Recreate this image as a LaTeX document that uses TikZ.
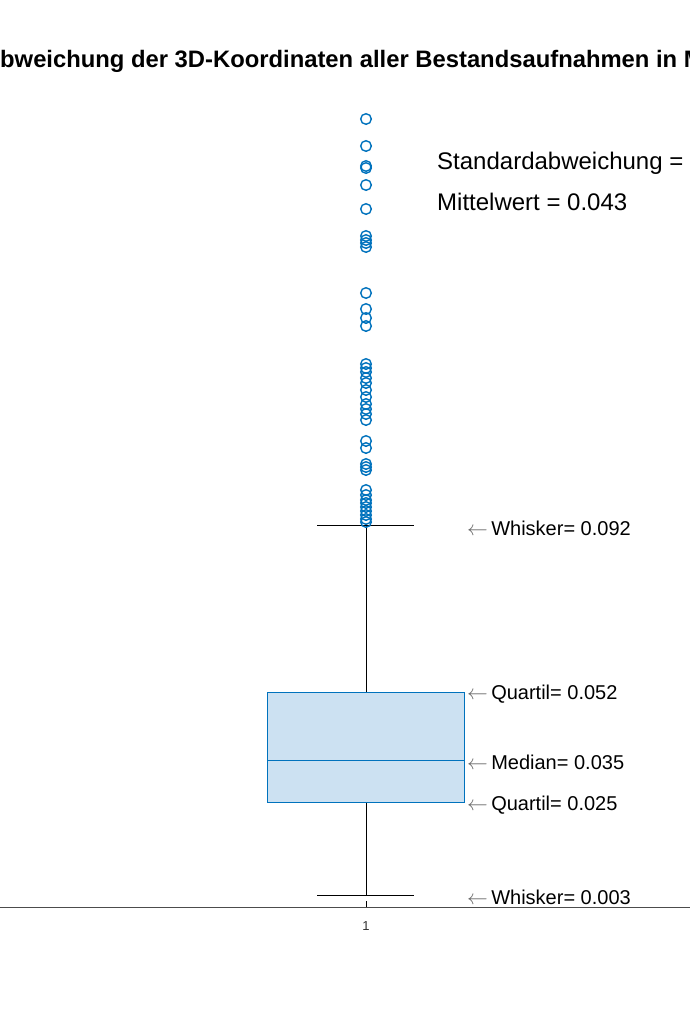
\documentclass[tikz,border=0pt]{standalone}
\usepackage{fontspec}
\setmainfont{Liberation Sans}
\begin{document}
\begin{tikzpicture}[x=1pt,y=-1pt,
  outl/.style={draw=mblue,line width=1.4pt},
  lbl/.style={anchor=west,font=\fontsize{20}{22}\selectfont,inner sep=0pt},
  big/.style={anchor=base west,font=\fontsize{24}{27}\selectfont,inner sep=0pt}]
\definecolor{mblue}{RGB}{0,114,189}
\definecolor{mfill}{RGB}{204,225,242}
\useasboundingbox (0,0) rectangle (690,1020);
\clip (0,0) rectangle (690,1020);
\fill[white] (0,0) rectangle (690,1020);
\node[anchor=base east,inner sep=0pt,font=\bfseries\fontsize{23.8}{26}\selectfont] (titleA) at (0,67) {Standarda};
\node[anchor=base west,inner sep=0pt,font=\bfseries\fontsize{23.8}{26}\selectfont] (titleB) at (0,67) {bweichung der 3D-Koordinaten aller Bestandsaufnahmen in Metern};
% axis
\draw[line width=0.8pt,black!70] (0,907) -- (690,907);
\draw[line width=0.6pt] (366,907) -- (366,901);
\node[font=\fontsize{13}{14}\selectfont,text=black!80] (tick) at (366,926) {1};
% whiskers
\draw[line width=0.8pt] (366,525) -- (366,692);
\draw[line width=0.8pt] (366,802) -- (366,895);
\draw[line width=0.8pt] (317,525) -- (414,525);
\draw[line width=0.8pt] (317,895) -- (414,895);
% box
\draw[draw=mblue,fill=mfill,line width=1pt] (267,692) rectangle (464,802);
\draw[mblue,line width=1pt] (267,760) -- (464,760);
% outliers
\foreach \yy in {119,146,166,168,185,209,236,240,243,247,293,309,318,326,364,368,372,378,383,390,397,404,409,414,420,441,448,464,467,470,490,495,500,503,507,511,515,519,522}
  \draw[outl] (366,\yy) circle (5.3);
% labels
\node[lbl] (w1) at (467,528) {\textcolor{black!60}{$\leftarrow$}\,Whisker= 0.092};
\node[lbl] (q1) at (467,694) {\textcolor{black!60}{$\leftarrow$}\,Quartil= 0.052};
\node[lbl] (me) at (467,762) {\textcolor{black!60}{$\leftarrow$}\,Median= 0.035};
\node[lbl] (q2) at (467,805) {\textcolor{black!60}{$\leftarrow$}\,Quartil= 0.025};
\node[lbl] (w2) at (467,897) {\textcolor{black!60}{$\leftarrow$}\,Whisker= 0.003};
\node[big] (sd) at (437,169) {Standardabweichung = 0.027};
\node[big] (mw) at (437,210) {Mittelwert = 0.043};
\end{tikzpicture}
\end{document}
